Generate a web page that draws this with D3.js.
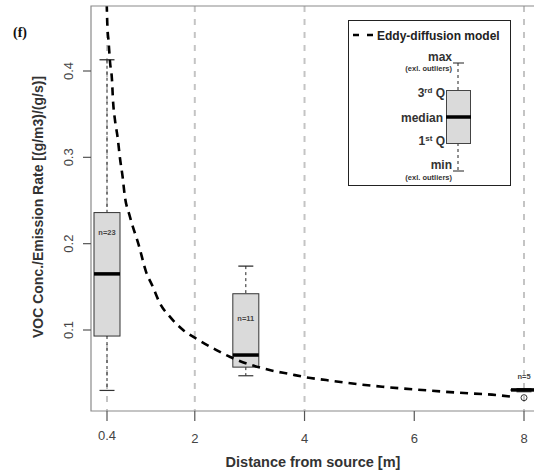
<!DOCTYPE html>
<html>
<head>
<meta charset="utf-8">
<script src="https://cdn.jsdelivr.net/npm/d3@7"></script>
<style>
  body { margin: 0; background: #fff; }
</style>
</head>
<body>
<script>
var width = 534;
var height = 473;
var sans = "'Liberation Sans', Arial, sans-serif";

// box plot summary per distance
var boxPos = [0.4, 2.93, 8];
var whiskerHi = [0.413, 0.174, 0.032];
var q3 = [0.236, 0.142, 0.031];
var median = [0.165, 0.071, 0.0306];
var q1 = [0.093, 0.057, 0.030];
var whiskerLo = [0.030, 0.047, 0.0285];
var nLabels = ["n=23", "n=11", "n=5"];
var nLabelY = [0.213, 0.114, 0.047];
var outlierX = [8];
var outlierY = [0.0216];

// eddy-diffusion model curve
var modelX = [0.395, 0.405, 0.431, 0.455, 0.491, 0.509, 0.545, 0.595, 0.636, 0.685, 0.722, 0.818, 0.987, 1.109, 1.236, 1.364, 1.545, 1.787, 2.091, 2.395, 2.636, 3.364, 3.727, 4.031, 4.395, 4.758, 5.418, 6.145, 6.818, 7.485, 7.782];
var modelY = [0.478, 0.4556, 0.4324, 0.4104, 0.3896, 0.3664, 0.3433, 0.3224, 0.2992, 0.2772, 0.2564, 0.2312, 0.1965, 0.168, 0.150, 0.1309, 0.1154, 0.1001, 0.0876, 0.0768, 0.0690, 0.0536, 0.0490, 0.0452, 0.0420, 0.0389, 0.0343, 0.0305, 0.0273, 0.0247, 0.0227];

var gridX = [0.4, 2, 4, 8];
var xTicks = [0.4, 2, 4, 6, 8];
var yTicks = [0.1, 0.2, 0.3, 0.4];

var plotLeft = 91, plotTop = 6, plotBottom = 411, plotRight = 545;

var x = d3.scaleLinear().domain([0.4, 8]).range([107, 524]);
var y = d3.scaleLinear().domain([0.1, 0.4]).range([330, 71]);

var svg = d3.select('body').append('svg').attr('width', width).attr('height', height)
  .style("font-family", sans);

svg.append("defs").append("clipPath").attr("id", "plotclip")
  .append("rect")
  .attr("x", plotLeft).attr("y", plotTop)
  .attr("width", plotRight - plotLeft).attr("height", plotBottom - plotTop);

var plot = svg.append("g").attr("clip-path", "url(#plotclip)");

// vertical grey guide lines
plot.selectAll("line.grid")
  .data(gridX)
  .enter().append("line")
  .attr("class", "grid")
  .attr("x1", function (d) { return x(d); })
  .attr("x2", function (d) { return x(d); })
  .attr("y1", plotTop)
  .attr("y2", plotBottom)
  .attr("stroke", "#c4c4c4")
  .attr("stroke-width", 2)
  .attr("stroke-dasharray", "6,7");

// whiskers
var boxes = d3.range(boxPos.length);
var boxW = 26;
var capW = 15;

plot.selectAll("line.whiskHi")
  .data(boxes).enter().append("line")
  .attr("x1", function (i) { return x(boxPos[i]); })
  .attr("x2", function (i) { return x(boxPos[i]); })
  .attr("y1", function (i) { return y(whiskerHi[i]); })
  .attr("y2", function (i) { return y(q3[i]); })
  .attr("stroke", "#222").attr("stroke-width", 1).attr("stroke-dasharray", "3,3");
plot.selectAll("line.whiskLo")
  .data(boxes).enter().append("line")
  .attr("x1", function (i) { return x(boxPos[i]); })
  .attr("x2", function (i) { return x(boxPos[i]); })
  .attr("y1", function (i) { return y(q1[i]); })
  .attr("y2", function (i) { return y(whiskerLo[i]); })
  .attr("stroke", "#222").attr("stroke-width", 1).attr("stroke-dasharray", "3,3");
plot.selectAll("line.capHi")
  .data(boxes).enter().append("line")
  .attr("x1", function (i) { return x(boxPos[i]) - capW / 2; })
  .attr("x2", function (i) { return x(boxPos[i]) + capW / 2; })
  .attr("y1", function (i) { return y(whiskerHi[i]); })
  .attr("y2", function (i) { return y(whiskerHi[i]); })
  .attr("stroke", "#222").attr("stroke-width", 1.2);
plot.selectAll("line.capLo")
  .data(boxes).enter().append("line")
  .attr("x1", function (i) { return x(boxPos[i]) - capW / 2; })
  .attr("x2", function (i) { return x(boxPos[i]) + capW / 2; })
  .attr("y1", function (i) { return y(whiskerLo[i]); })
  .attr("y2", function (i) { return y(whiskerLo[i]); })
  .attr("stroke", "#333").attr("stroke-width", 1.2);

// boxes
plot.selectAll("rect.box")
  .data(boxes).enter().append("rect")
  .attr("x", function (i) { return x(boxPos[i]) - boxW / 2; })
  .attr("width", boxW)
  .attr("y", function (i) { return y(q3[i]); })
  .attr("height", function (i) { return Math.max(1, y(q1[i]) - y(q3[i])); })
  .attr("fill", "#dadada")
  .attr("stroke", "#333")
  .attr("stroke-width", 1);

plot.selectAll("line.median")
  .data(boxes).enter().append("line")
  .attr("x1", function (i) { return x(boxPos[i]) - boxW / 2; })
  .attr("x2", function (i) { return x(boxPos[i]) + boxW / 2; })
  .attr("y1", function (i) { return y(median[i]); })
  .attr("y2", function (i) { return y(median[i]); })
  .attr("stroke", "#000").attr("stroke-width", 3.5);

plot.selectAll("text.nlab")
  .data(boxes).enter().append("text")
  .attr("x", function (i) { return x(boxPos[i]); })
  .attr("y", function (i) { return y(nLabelY[i]) + 3; })
  .attr("text-anchor", "middle")
  .attr("font-size", "7.5px")
  .attr("font-weight", "bold")
  .attr("fill", "#444")
  .text(function (i) { return nLabels[i]; });

plot.selectAll("circle.outlier")
  .data(d3.range(outlierX.length)).enter().append("circle")
  .attr("cx", function (i) { return x(outlierX[i]); })
  .attr("cy", function (i) { return y(outlierY[i]); })
  .attr("r", 3)
  .attr("fill", "none")
  .attr("stroke", "#333")
  .attr("stroke-width", 1);

// model curve
var modelLine = d3.line()
  .x(function (i) { return x(modelX[i]); })
  .y(function (i) { return y(modelY[i]); })
  .curve(d3.curveMonotoneX);

plot.append("path")
  .attr("d", modelLine(d3.range(modelX.length)))
  .attr("fill", "none")
  .attr("stroke", "#000")
  .attr("stroke-width", 2.6)
  .attr("stroke-dasharray", "8,6");

// plot frame
svg.append("path")
  .attr("d", "M" + plotRight + "," + plotTop + "H" + plotLeft + "V" + plotBottom + "H" + plotRight)
  .attr("fill", "none")
  .attr("stroke", "#8a8a8a")
  .attr("stroke-width", 1.2);

// x axis
var xAxis = svg.append("g");
xAxis.selectAll("line")
  .data(xTicks).enter().append("line")
  .attr("x1", function (d) { return x(d); })
  .attr("x2", function (d) { return x(d); })
  .attr("y1", plotBottom)
  .attr("y2", plotBottom + 10)
  .attr("stroke", "#555").attr("stroke-width", 1.2);
xAxis.selectAll("text")
  .data(xTicks).enter().append("text")
  .attr("x", function (d) { return x(d); })
  .attr("y", function (d) { return d === 0.4 ? 440 : 443; })
  .attr("text-anchor", "middle")
  .attr("font-size", "13px")
  .attr("fill", "#444")
  .text(function (d) { return d; });

// y axis
var yAxis = svg.append("g");
yAxis.selectAll("line")
  .data(yTicks).enter().append("line")
  .attr("x1", plotLeft - 8)
  .attr("x2", plotLeft)
  .attr("y1", function (d) { return y(d); })
  .attr("y2", function (d) { return y(d); })
  .attr("stroke", "#555").attr("stroke-width", 1.2);
yAxis.selectAll("text")
  .data(yTicks).enter().append("text")
  .attr("transform", function (d) { return "translate(72.5," + y(d) + ") rotate(-90)"; })
  .attr("text-anchor", "middle")
  .attr("font-size", "13px")
  .attr("fill", "#444")
  .text(function (d) { return d3.format(".1f")(d); });

// axis titles
svg.append("text")
  .attr("x", 313).attr("y", 467)
  .attr("text-anchor", "middle")
  .attr("font-size", "14.5px")
  .attr("font-weight", "bold")
  .attr("fill", "#333")
  .text("Distance from source [m]");

svg.append("text")
  .attr("transform", "translate(43,207) rotate(-90)")
  .attr("text-anchor", "middle")
  .attr("font-size", "14px")
  .attr("font-weight", "bold")
  .attr("fill", "#333")
  .text("VOC Conc./Emission Rate [(g/m3)/(g/s)]");

svg.append("text")
  .attr("x", 13).attr("y", 37)
  .style("font-family", "'Liberation Serif', 'Times New Roman', serif")
  .attr("font-size", "14px")
  .attr("font-weight", "bold")
  .attr("fill", "#111")
  .text("(f)");

// legend
var lg = svg.append("g");
lg.append("rect")
  .attr("x", 348.5).attr("y", 20.5)
  .attr("width", 162).attr("height", 165)
  .attr("fill", "#fff")
  .attr("stroke", "#222")
  .attr("stroke-width", 1);
lg.append("line")
  .attr("x1", 353).attr("x2", 374).attr("y1", 35).attr("y2", 35)
  .attr("stroke", "#000").attr("stroke-width", 2.6).attr("stroke-dasharray", "6,8");
lg.append("text")
  .attr("x", 377).attr("y", 39.5)
  .attr("font-size", "12px")
  .attr("font-weight", "bold")
  .attr("fill", "#222")
  .text("Eddy-diffusion model");

// legend box glyph
var gx = 458;
lg.append("line").attr("x1", gx).attr("x2", gx).attr("y1", 63).attr("y2", 90)
  .attr("stroke", "#222").attr("stroke-dasharray", "3,3");
lg.append("line").attr("x1", gx).attr("x2", gx).attr("y1", 143).attr("y2", 171)
  .attr("stroke", "#222").attr("stroke-dasharray", "3,3");
lg.append("line").attr("x1", 453).attr("x2", 464).attr("y1", 63).attr("y2", 63)
  .attr("stroke", "#222");
lg.append("line").attr("x1", 453).attr("x2", 464).attr("y1", 171).attr("y2", 171)
  .attr("stroke", "#222");
lg.append("rect").attr("x", 446.5).attr("y", 90.5).attr("width", 24).attr("height", 53)
  .attr("fill", "#dadada").attr("stroke", "#444");
lg.append("line").attr("x1", 446).attr("x2", 471).attr("y1", 117).attr("y2", 117)
  .attr("stroke", "#000").attr("stroke-width", 3.5);

function legendLabel(txt, lx, ly, size) {
  return lg.append("text")
    .attr("x", lx).attr("y", ly)
    .attr("text-anchor", "end")
    .attr("font-size", size)
    .attr("font-weight", "bold")
    .attr("fill", "#333")
    .text(txt);
}
legendLabel("max", 452, 61, "12px");
legendLabel("(exl. outliers)", 452, 71, "7.5px");
legendLabel("median", 443, 121.5, "12px");
legendLabel("min", 452, 169, "12px");
legendLabel("(exl. outliers)", 452, 180, "7.5px");

var t3 = lg.append("text").attr("x", 445).attr("y", 97).attr("text-anchor", "end")
  .attr("font-size", "12px").attr("font-weight", "bold").attr("fill", "#333");
t3.append("tspan").text("3");
t3.append("tspan").attr("font-size", "8px").attr("dy", -4).text("rd");
t3.append("tspan").attr("dy", 4).text(" Q");

var t1 = lg.append("text").attr("x", 445).attr("y", 145).attr("text-anchor", "end")
  .attr("font-size", "12px").attr("font-weight", "bold").attr("fill", "#333");
t1.append("tspan").text("1");
t1.append("tspan").attr("font-size", "8px").attr("dy", -4).text("st");
t1.append("tspan").attr("dy", 4).text(" Q");
</script>
</body>
</html>
